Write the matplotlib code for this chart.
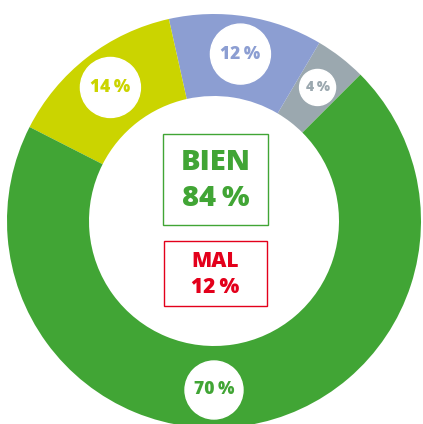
import numpy as np
import matplotlib.pyplot as plt
from matplotlib.patches import Circle, Rectangle

# slice data, counter-clockwise from the upper right
labels = ['4\u2009%', '12\u2009%', '14\u2009%', '70\u2009%']
values = [4, 12, 14, 70]
colors = ['#9ba8af', '#8c9ed2', '#cbd400', '#41a535']
bubble_r = [18, 30, 30, 29]

summary_titles = ['BIEN', 'MAL']
summary_values = ['84\u2009%', '12\u2009%']
summary_colors = ['#41a535', '#e3001b']

plt.rcParams['font.family'] = ['Open Sans', 'DejaVu Sans']

fig = plt.figure(figsize=(4.23, 4.24), dpi=100)
ax = fig.add_axes([0, 0, 1, 1])

cx, cy, R, ring = 214, 203, 207, 82
wedges, _ = ax.pie(values, colors=colors, startangle=45, counterclock=True,
                   center=(cx, cy), radius=R,
                   wedgeprops=dict(width=ring, linewidth=0))

# white bubbles with the percentages
for w, lab, col, br in zip(wedges, labels, colors, bubble_r):
    mid = (w.theta1 + w.theta2) / 2
    if w.theta2 - w.theta1 > 180:
        mid = 270  # big slice label sits at the bottom
    rr = R - ring / 2 + 3
    x = cx + rr * np.cos(np.radians(mid))
    y = cy + rr * np.sin(np.radians(mid))
    ax.add_patch(Circle((x, y), br, color='white', zorder=3))
    fs = 10 if br < 20 else 12.5
    ax.text(x, y, lab, color=col, fontsize=fs, fontweight=800,
            ha='center', va='center', zorder=4)

# summary boxes in the hole
boxes = [(163, 199, 105, 91), (164, 118, 103, 65)]
sizes = [21, 15]
for (bx, by, bw, bh), t, v, c, s in zip(boxes, summary_titles, summary_values,
                                        summary_colors, sizes):
    ax.add_patch(Rectangle((bx, by), bw, bh, fill=False, edgecolor=c, linewidth=1))
    ax.text(bx + bw / 2, by + bh * 0.69, t, color=c, fontsize=s,
            fontweight=800, ha='center', va='center')
    ax.text(bx + bw / 2, by + bh * 0.29, v, color=c, fontsize=s,
            fontweight=800, ha='center', va='center')

ax.set_xlim(0, 423)
ax.set_ylim(0, 424)
ax.set_aspect('equal')
ax.axis('off')
fig.savefig('out.png', dpi=100)
